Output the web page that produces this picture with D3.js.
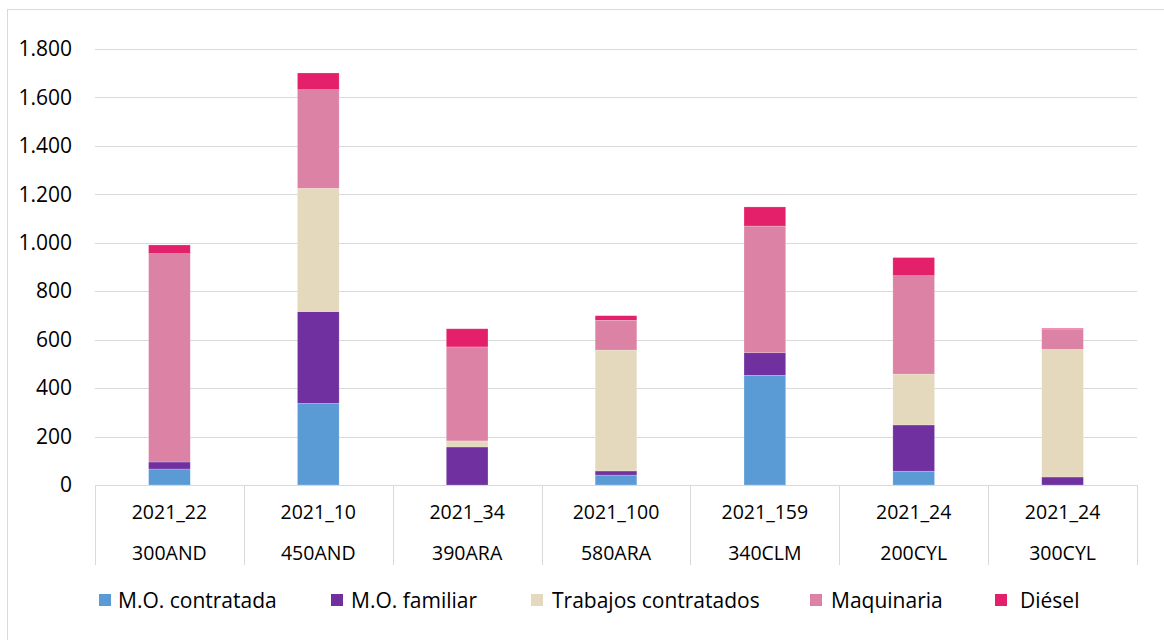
<!DOCTYPE html>
<html>
<head>
<meta charset="utf-8">
<script src="https://cdn.jsdelivr.net/npm/d3@7"></script>
<style>
  html, body { margin: 0; padding: 0; background: #fff; }
  svg { display: block; }
  text { font-family: "Open Sans", "Noto Sans", sans-serif; fill: #000; }
</style>
</head>
<body>
<svg id="chart" width="1164" height="640"></svg>
<script>
const codes = ["2021_22", "2021_10", "2021_34", "2021_100", "2021_159", "2021_24", "2021_24"];
const groups = ["300AND", "450AND", "390ARA", "580ARA", "340CLM", "200CYL", "300CYL"];
const seriesNames = ["M.O. contratada", "M.O. familiar", "Trabajos contratados", "Maquinaria", "Diésel"];
const moContratada = [66, 337, 0, 41, 453, 57, 0];
const moFamiliar = [29, 379, 157, 17, 93, 191, 33];
const trabajos = [0, 509, 25, 499, 0, 210, 527];
const maquinaria = [860, 407, 388, 123, 523, 406, 84];
const diesel = [36, 69, 75, 19, 79, 75, 3];
const yTicks = [0, 200, 400, 600, 800, 1000, 1200, 1400, 1600, 1800];
const colors = ["#5B9BD5", "#7030A0", "#E4D9BD", "#DC82A4", "#E5206A"];

const svg = d3.select("#chart");
const plotLeft = 95, plotRight = 1137, plotTop = 49, plotBottom = 485;

// outer border
svg.append("rect").attr("x", 7.5).attr("y", 9.5).attr("width", 1170).attr("height", 650)
  .attr("fill", "none").attr("stroke", "#D9D9D9").attr("stroke-width", 1);

const idx = d3.range(codes.length);
const x = d3.scaleBand().domain(idx).range([plotLeft, plotRight]).paddingInner(0.72).paddingOuter(0.36);
const step = x.step();
const y = d3.scaleLinear().domain([0, 1800]).range([plotBottom, plotTop]);

// gridlines
svg.append("g").selectAll("line").data(yTicks.slice(1)).join("line")
  .attr("x1", plotLeft).attr("x2", plotRight)
  .attr("y1", d => Math.round(y(d)) + 0.5).attr("y2", d => Math.round(y(d)) + 0.5)
  .attr("stroke", "#D9D9D9").attr("stroke-width", 1);

// y axis labels
const yAxis = d3.axisLeft(y).tickValues(yTicks).tickSize(0)
  .tickFormat(d => d3.format(",")(d).replace(/,/g, "."));
const gy = svg.append("g").attr("transform", `translate(${plotLeft - 20},0)`).call(yAxis);
gy.select(".domain").remove();
gy.selectAll("text").attr("font-size", 21).attr("font-family", "Open Sans").attr("fill", "#000");

// stacked data
const rows = idx.map(i => ({
  i,
  "M.O. contratada": moContratada[i],
  "M.O. familiar": moFamiliar[i],
  "Trabajos contratados": trabajos[i],
  "Maquinaria": maquinaria[i],
  "Diésel": diesel[i]
}));
const stacked = d3.stack().keys(seriesNames)(rows);

svg.append("g").selectAll("g").data(stacked).join("g")
  .attr("fill", (d, k) => colors[k])
  .selectAll("rect").data(d => d).join("rect")
  .attr("x", d => x(d.data.i))
  .attr("width", x.bandwidth())
  .attr("y", d => y(d[1]))
  .attr("height", d => Math.max(0, y(d[0]) - y(d[1])))
  .attr("stroke", "#ffffff").attr("stroke-opacity", 0.35).attr("stroke-width", 0.6);

// x axis line
svg.append("line").attr("x1", plotLeft).attr("x2", plotRight).attr("y1", plotBottom + 0.5).attr("y2", plotBottom + 0.5)
  .attr("stroke", "#D9D9D9").attr("stroke-width", 1);

// category separators
const seps = d3.range(codes.length + 1).map(k => plotLeft + k * step);
svg.append("g").selectAll("line").data(seps).join("line")
  .attr("x1", d => Math.round(d) + 0.5).attr("x2", d => Math.round(d) + 0.5)
  .attr("y1", plotBottom).attr("y2", 565)
  .attr("stroke", "#D9D9D9").attr("stroke-width", 1);

// category labels
const gx = svg.append("g");
gx.selectAll("text.code").data(idx).join("text").attr("class", "code")
  .attr("x", i => x(i) + x.bandwidth() / 2).attr("y", 519)
  .attr("text-anchor", "middle").attr("font-size", 19.5).text(i => codes[i]);
gx.selectAll("text.grp").data(idx).join("text").attr("class", "grp")
  .attr("x", i => x(i) + x.bandwidth() / 2).attr("y", 560)
  .attr("text-anchor", "middle").attr("font-size", 19.5).text(i => groups[i]);

// legend
const legendX = [99, 331, 531, 810, 995];
const legendTextX = [118, 351, 552, 831, 1020];
const lg = svg.append("g");
seriesNames.forEach((s, k) => {
  lg.append("rect").attr("x", legendX[k]).attr("y", 594).attr("width", 12).attr("height", 12).attr("fill", colors[k]);
  lg.append("text").attr("x", legendTextX[k]).attr("y", 608).attr("font-size", 21).text(s);
});
</script>
</body>
</html>
